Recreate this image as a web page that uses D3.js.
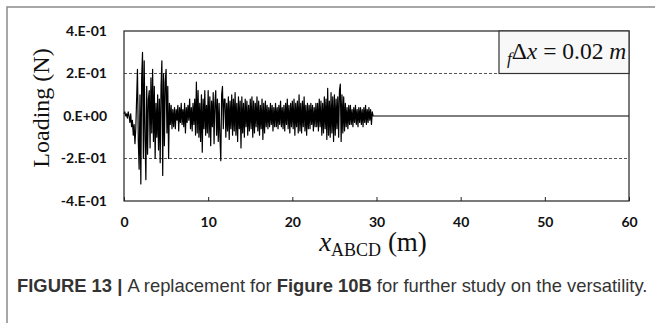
<!DOCTYPE html>
<html>
<head>
<meta charset="utf-8">
<script src="https://cdn.jsdelivr.net/npm/d3@7"></script>
<style>
  body { margin: 0; background: #fff; }
  svg { display: block; }
</style>
</head>
<body>
<div id="chart"></div>
<script>
// loading signal, in hundredths of N, one value per 0.1 m from x = 0
const loadingHundredths = [
  1, 2, 0, 1, -1, 2, 0, -3, 1, -5,
  -2, -9, -4, -13, -6, 8, 22, -12, -25, 10,
  -32, 18, 30, -20, 26, -10, -30, 14, -18, 8,
  12, -15, 18, -8, 22, -12, 14, -20, 6, -10,
  10, -16, 8, -22, 14, 26, -28, 20, -14, 16,
  22, -8, 14, -20, 6, -4, 5, -6, 3, -5,
  4, -6, 3, -2, 5, -7, 4, -3, 6, -4,
  3, -5, 6, -8, 4, -3, 5, -2, 8, -6,
  4, -7, 6, -4, 8, -9, 16, -8, 12, -10,
  6, -12, 10, -17, 8, -6, 12, -9, 5, -8,
  12, -10, 9, -14, 7, -5, 11, -13, 6, 12,
  -9, 8, -12, 6, -10, -21, 10, 14, -6, 8,
  8, -10, 6, -7, 9, -11, 7, -6, 10, -9,
  8, -7, 11, -9, 6, -12, 9, -6, 7, -15,
  9, -8, 6, -10, 8, -5, 7, -9, 5, -7,
  8, -6, 9, -10, 7, -8, 6, -5, 9, -7,
  7, -9, 5, -6, 8, -11, 6, -8, 7, -5,
  5, -6, 4, -5, 6, -4, 5, -7, 4, -5,
  6, -5, 4, -6, 5, -4, 7, -5, 4, -6,
  5, -7, 6, -4, 8, -6, 5, -8, 6, -5,
  7, -6, 8, -9, 6, -5, 7, -8, 10, -7,
  6, -8, 7, -5, 9, -7, 5, -9, 6, -6,
  5, -6, 6, -4, 5, -7, 4, -5, 6, -5,
  6, -7, 8, -5, 7, -9, 6, -8, 9, -6,
  8, -11, 13, -9, 7, -10, 11, -8, 9, -12,
  10, -9, 8, -6, 9, -10, 12, 15, -12, 10,
  -8, 9, -7, 6, -5, 4, -6, 5, -4, 5,
  -4, 3, -5, 4, -3, 5, -4, 3, -5, 4,
  -3, 4, -4, 3, -5, 4, -3, 5, -4, 3,
  -3, 4, -2, 3, -4, 2, 0, 0, 0, 0
];
const sampleStep = 0.1;      // m
const tailX = [60];          // flat part after the wave has passed
const tailLoading = [0];

const xTicks = [0, 10, 20, 30, 40, 50, 60];
const yTicks = [-0.4, -0.2, 0, 0.2, 0.4];
const yTickLabels = ["-4.E-01", "-2.E-01", "0.E+00", "2.E-01", "4.E-01"];
const gridValues = [-0.2, 0.2];

const W = 655, H = 323;
const plot = { left: 124, right: 629, top: 31, bottom: 201 };

const svg = d3.select("#chart").append("svg")
  .attr("width", W)
  .attr("height", H);

// figure frame (top and left edges only)
svg.append("path")
  .attr("d", `M7,${H} V7 H${W}`)
  .attr("fill", "none")
  .attr("stroke", "#8a8a8a")
  .attr("stroke-width", 1.5);

const x = d3.scaleLinear().domain([0, 60]).range([plot.left, plot.right]);
const y = d3.scaleLinear().domain([-0.4, 0.4]).range([plot.bottom, plot.top]);

const data = loadingHundredths.map((v, i) => ({ x: i * sampleStep, v: v / 100 }))
  .concat(tailX.map((tx, i) => ({ x: tx, v: tailLoading[i] })));

// dashed gridlines
svg.selectAll(".grid")
  .data(gridValues)
  .enter().append("line")
  .attr("x1", plot.left).attr("x2", plot.right)
  .attr("y1", d => y(d)).attr("y2", d => y(d))
  .attr("stroke", "#555")
  .attr("stroke-width", 1)
  .attr("stroke-dasharray", "3,2");

// signal
svg.append("path")
  .datum(data)
  .attr("fill", "none")
  .attr("stroke", "#000")
  .attr("stroke-width", 1.2)
  .attr("stroke-linejoin", "round")
  .attr("d", d3.line().x(d => x(d.x)).y(d => y(d.v)));

// plot border
svg.append("rect")
  .attr("x", plot.left).attr("y", plot.top)
  .attr("width", plot.right - plot.left)
  .attr("height", plot.bottom - plot.top)
  .attr("fill", "none")
  .attr("stroke", "#222")
  .attr("stroke-width", 1.2);

// x axis
const xAxis = svg.append("g")
  .attr("transform", `translate(0,${plot.bottom})`)
  .call(d3.axisBottom(x).tickValues(xTicks).tickSize(-4).tickFormat(d3.format("d")));
xAxis.select(".domain").remove();
xAxis.selectAll("line").attr("stroke", "#222");
xAxis.selectAll("text")
  .attr("y", 21)
  .attr("dy", "0.35em")
  .style("font-family", "Lato, 'Open Sans', sans-serif")
  .style("font-weight", "700")
  .style("font-size", "14px")
  .attr("fill", "#111");

// y axis
const yAxis = svg.append("g")
  .attr("transform", `translate(${plot.left},0)`)
  .call(d3.axisLeft(y).tickValues(yTicks).tickSize(0).tickPadding(17)
    .tickFormat((d, i) => yTickLabels[i]));
yAxis.select(".domain").remove();
yAxis.selectAll("text")
  .style("font-family", "Lato, 'Open Sans', sans-serif")
  .style("font-weight", "700")
  .style("font-size", "14px")
  .attr("fill", "#111");

// legend box
svg.append("rect")
  .attr("x", 499).attr("y", plot.top)
  .attr("width", plot.right - 499).attr("height", y(0.2) - plot.top)
  .attr("fill", "#f8f8f8")
  .attr("stroke", "#333")
  .attr("stroke-width", 1.2);

const leg = svg.append("text")
  .attr("x", 507).attr("y", 59)
  .style("font-family", "'Liberation Serif', serif")
  .style("font-size", "23.5px")
  .attr("fill", "#111");
leg.append("tspan").attr("font-style", "italic").attr("font-size", "17px").attr("dy", 5).text("f");
leg.append("tspan").attr("dy", -5).text("Δ");
leg.append("tspan").attr("font-style", "italic").text("x");
leg.append("tspan").text(" = 0.02 ");
leg.append("tspan").attr("font-style", "italic").text("m");

// y title
svg.append("text")
  .attr("transform", "translate(49,108) rotate(-90)")
  .attr("text-anchor", "middle")
  .style("font-family", "'Liberation Serif', serif")
  .style("font-size", "24px")
  .attr("fill", "#111")
  .text("Loading (N)");

// x title
const xt = svg.append("text")
  .attr("x", 373).attr("y", 251)
  .attr("text-anchor", "middle")
  .style("font-family", "'Liberation Serif', serif")
  .style("font-size", "27px")
  .attr("fill", "#111");
xt.append("tspan").attr("font-style", "italic").text("x");
xt.append("tspan").attr("font-size", "18px").attr("dy", 5).text("ABCD");
xt.append("tspan").attr("dy", -5).text(" (m)");

// caption
const cap = svg.append("text")
  .attr("x", 17).attr("y", 292)
  .style("font-family", "'Liberation Sans', Arial, sans-serif")
  .style("font-size", "18.4px")
  .attr("fill", "#333");
cap.append("tspan").attr("font-weight", "bold").text("FIGURE 13 | ");
cap.append("tspan").text("A replacement for ");
cap.append("tspan").attr("font-weight", "bold").text("Figure 10B");
cap.append("tspan").text(" for further study on the versatility.");
</script>
</body>
</html>
